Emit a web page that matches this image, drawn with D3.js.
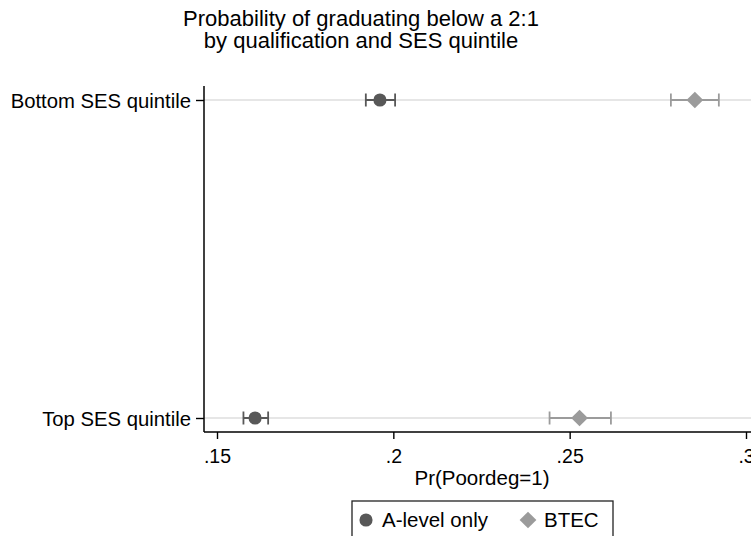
<!DOCTYPE html>
<html>
<head>
<meta charset="utf-8">
<script src="https://cdn.jsdelivr.net/npm/d3@7.9.0/dist/d3.min.js"></script>
<style>
  body { margin: 0; background: #fff; }
  svg { display: block; font-family: "Liberation Sans", Arial, sans-serif; }
</style>
</head>
<body>
<div id="chart"></div>
<script>
const groups = ["Bottom SES quintile", "Top SES quintile"];
const seriesNames = ["A-level only", "BTEC"];
const alevelEst = [0.1962, 0.1608];
const alevelLo = [0.1922, 0.1575];
const alevelHi = [0.2005, 0.1645];
const btecEst = [0.2855, 0.2528];
const btecLo = [0.2787, 0.2443];
const btecHi = [0.2923, 0.2617];
const xTicks = [0.15, 0.2, 0.25, 0.3];
const titleLines = ["Probability of graduating below a 2:1", "by qualification and SES quintile"];
const xTitle = "Pr(Poordeg=1)";

const width = 751;
const height = 536;
const colors = { "A-level only": "#585858", "BTEC": "#9b9b9b" };
const fontFamily = "Liberation Sans, Arial, sans-serif";

const circleSym = d3.symbol().type(d3.symbolCircle).size(135);
const diamondSym = d3.symbol().type(d3.symbolSquare).size(140);

const series = [
  { name: seriesNames[0], est: alevelEst, lo: alevelLo, hi: alevelHi, sym: circleSym, rot: 0 },
  { name: seriesNames[1], est: btecEst, lo: btecLo, hi: btecHi, sym: diamondSym, rot: 45 },
];

const svg = d3.select("#chart").append("svg")
  .attr("width", width)
  .attr("height", height);

const plotLeft = 204;
const plotTop = 86;
const plotBottom = 432;

const xScale = d3.scaleLinear().domain([0.15, 0.3]).range([217, 746]);
const yScale = d3.scalePoint().domain(groups).range([100, 418]);

// title
svg.append("g")
  .selectAll("text")
  .data(titleLines)
  .join("text")
  .attr("x", 361)
  .attr("y", (d, i) => 26 + i * 22)
  .attr("text-anchor", "middle")
  .attr("font-size", 22)
  .text((d) => d);

// gridlines
svg.append("g")
  .selectAll("line")
  .data(groups)
  .join("line")
  .attr("x1", plotLeft)
  .attr("x2", width)
  .attr("y1", (d) => yScale(d))
  .attr("y2", (d) => yScale(d))
  .attr("stroke", "#e6e6e6")
  .attr("stroke-width", 2);

// error bars and markers
series.forEach((s) => {
  const g = svg.append("g");
  const rows = groups.map((grp, i) => ({ grp, est: s.est[i], lo: s.lo[i], hi: s.hi[i] }));
  const col = colors[s.name];

  g.selectAll("line.ci")
    .data(rows)
    .join("line")
    .attr("class", "ci")
    .attr("x1", (d) => xScale(d.lo))
    .attr("x2", (d) => xScale(d.hi))
    .attr("y1", (d) => yScale(d.grp))
    .attr("y2", (d) => yScale(d.grp))
    .attr("stroke", col)
    .attr("stroke-width", 2);

  ["lo", "hi"].forEach((k) => {
    g.selectAll(`line.cap-${k}`)
      .data(rows)
      .join("line")
      .attr("class", `cap-${k}`)
      .attr("x1", (d) => xScale(d[k]))
      .attr("x2", (d) => xScale(d[k]))
      .attr("y1", (d) => yScale(d.grp) - 6.5)
      .attr("y2", (d) => yScale(d.grp) + 6.5)
      .attr("stroke", col)
      .attr("stroke-width", 1.8);
  });

  g.selectAll("path")
    .data(rows)
    .join("path")
    .attr("d", s.sym)
    .attr("transform", (d) => `translate(${xScale(d.est)},${yScale(d.grp)}) rotate(${s.rot})`)
    .attr("fill", col);
});

// y axis
const yG = svg.append("g")
  .attr("transform", `translate(${plotLeft},0)`)
  .call(d3.axisLeft(yScale).tickSize(8).tickPadding(5));
yG.select(".domain").remove();
yG.append("line")
  .attr("y1", plotTop).attr("y2", plotBottom)
  .attr("stroke", "#000").attr("stroke-width", 1.5);
yG.selectAll(".tick line").attr("stroke-width", 1.4);
yG.selectAll(".tick text")
  .attr("font-size", 20.3)
  .attr("font-family", fontFamily)
  .attr("fill", "#000")
  .attr("dy", "0.36em");

// x axis
const xG = svg.append("g")
  .attr("transform", `translate(0,${plotBottom})`)
  .call(d3.axisBottom(xScale)
    .tickValues(xTicks)
    .tickSize(7)
    .tickPadding(0)
    .tickFormat((d) => d3.format(".2~f")(d).replace(/^0/, "")));
xG.select(".domain").remove();
xG.append("line")
  .attr("x1", plotLeft).attr("x2", width)
  .attr("stroke", "#000").attr("stroke-width", 1.5);
xG.selectAll(".tick line").attr("stroke-width", 1.4);
xG.selectAll(".tick text")
  .attr("font-size", 19.5)
  .attr("font-family", fontFamily)
  .attr("fill", "#000")
  .attr("y", 31)
  .attr("dy", null);

svg.append("text")
  .attr("x", 482).attr("y", 485)
  .attr("text-anchor", "middle")
  .attr("font-size", 20.5)
  .text(xTitle);

// legend
const legend = svg.append("g");
legend.append("rect")
  .attr("x", 352).attr("y", 501)
  .attr("width", 261).attr("height", 50)
  .attr("fill", "#fff")
  .attr("stroke", "#222")
  .attr("stroke-width", 1.3);

const legendX = [366, 528];
series.forEach((s, i) => {
  legend.append("path")
    .attr("d", s.sym)
    .attr("transform", `translate(${legendX[i]},520) rotate(${s.rot})`)
    .attr("fill", colors[s.name]);
  legend.append("text")
    .attr("x", legendX[i] + 16).attr("y", 527)
    .attr("font-size", 20.5)
    .text(s.name);
});
</script>
</body>
</html>
